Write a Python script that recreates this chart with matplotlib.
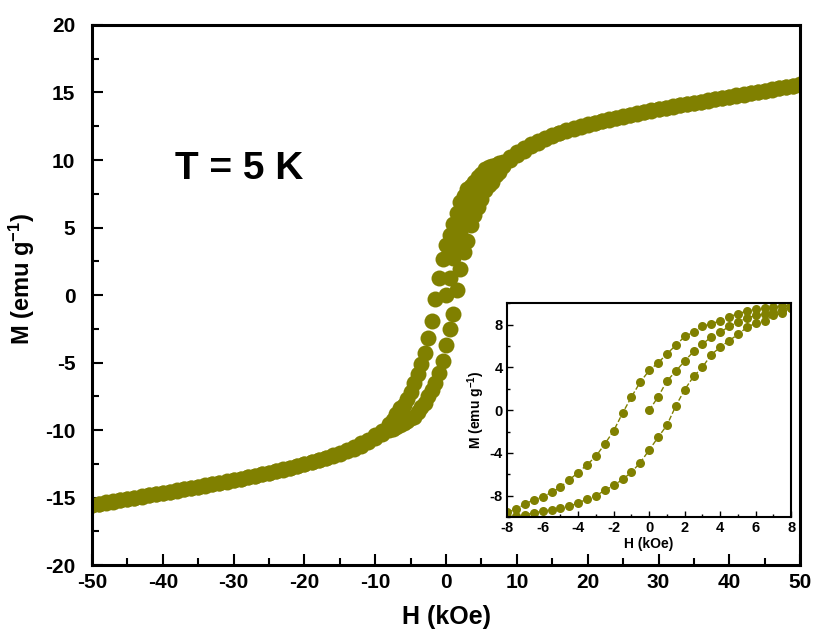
# M-H hysteresis loop at 5 K with low-field inset
import numpy as np
import matplotlib.pyplot as plt
from matplotlib.ticker import MultipleLocator

plt.rcParams["font.family"] = ["Liberation Sans", "DejaVu Sans"]
plt.rcParams["font.weight"] = "bold"
plt.rcParams["axes.labelweight"] = "bold"
plt.rcParams["axes.unicode_minus"] = False
plt.rcParams["mathtext.fontset"] = "custom"
plt.rcParams["mathtext.rm"] = "Liberation Sans:bold"
plt.rcParams["mathtext.bf"] = "Liberation Sans:bold"
plt.rcParams["mathtext.default"] = "bf"

OLIVE = "#808000"

# low-field part (kOe), 0.5 kOe steps
h_low = [-8, -7.5, -7, -6.5, -6, -5.5, -5, -4.5, -4, -3.5, -3, -2.5, -2, -1.5, -1, -0.5,
         0, 0.5, 1, 1.5, 2, 2.5, 3, 3.5, 4, 4.5, 5, 5.5, 6, 6.5, 7, 7.5, 8]
# branch measured while field goes down (upper branch)
m_low_down = [-9.55, -9.24, -8.8, -8.37, -8.12, -7.69, -7.19, -6.51, -5.83, -5.1, -4.31, -3.16,
              -1.92, -0.28, 1.24, 2.64, 3.72, 4.43, 5.27, 6.08, 6.9, 7.3, 7.84, 8.1, 8.35, 8.77,
              9.0, 9.3, 9.45, 9.55, 9.65, 9.75, 9.85]
# branch measured while field goes up (lower branch)
m_low_up = [-10.0, -9.9, -9.8, -9.6, -9.45, -9.3, -9.1, -9.0, -8.68, -8.31, -8.0, -7.5,
            -7.04, -6.48, -5.8, -4.9, -3.72, -2.54, -1.4, 0.4, 1.92, 3.16, 4.03, 5.2, 5.9, 6.5,
            7.1, 7.75, 8.15, 8.37, 8.87, 9.08, 9.55]
# virgin curve
h_virgin = [0, 0.5, 1, 1.5, 2, 2.5, 3, 3.5, 4, 4.5, 5, 5.5, 6, 6.5, 7, 7.5, 8]
m_virgin = [0, 1.24, 2.73, 3.66, 4.6, 5.5, 6.2, 6.85, 7.29, 7.84, 8.25, 8.62, 8.87, 9.0, 9.2, 9.4, 9.6]

# high-field parts, 1 kOe steps
h_pos = list(range(9, 51))
m_pos_down = [10.25, 10.6, 10.9, 11.15, 11.4, 11.62, 11.83, 12.02, 12.2, 12.36, 12.5, 12.63,
              12.76, 12.88, 13.0, 13.12, 13.23, 13.34, 13.45, 13.56, 13.67, 13.77, 13.87, 13.97,
              14.06, 14.15, 14.24, 14.33, 14.42, 14.51, 14.6, 14.69, 14.78, 14.87, 14.96, 15.05,
              15.14, 15.23, 15.32, 15.41, 15.5, 15.6]
m_pos_up = [10.0, 10.35, 10.7, 11.0, 11.27, 11.52, 11.78, 11.98, 12.17, 12.33, 12.47, 12.6,
            12.74, 12.86, 12.98, 13.1, 13.21, 13.32, 13.43, 13.54, 13.65, 13.75, 13.85, 13.95,
            14.04, 14.13, 14.22, 14.31, 14.4, 14.49, 14.58, 14.67, 14.76, 14.85, 14.94, 15.03,
            15.12, 15.21, 15.3, 15.39, 15.48, 15.58]
h_neg = list(range(-50, -8))
m_neg_down = [-15.55, -15.45, -15.36, -15.27, -15.18, -15.09, -15.0, -14.91, -14.82, -14.73,
              -14.64, -14.55, -14.46, -14.37, -14.28, -14.19, -14.1, -14.0, -13.9, -13.8,
              -13.7, -13.59, -13.48, -13.37, -13.26, -13.15, -13.03, -12.91, -12.78, -12.65,
              -12.52, -12.38, -12.23, -12.06, -11.88, -11.7, -11.5, -11.25, -10.98, -10.7,
              -10.4, -10.05]
m_neg_up = [-15.57, -15.47, -15.38, -15.29, -15.2, -15.11, -15.02, -14.93, -14.84, -14.75,
            -14.66, -14.57, -14.48, -14.39, -14.3, -14.21, -14.12, -14.02, -13.92, -13.82,
            -13.72, -13.61, -13.5, -13.39, -13.28, -13.17, -13.05, -12.93, -12.8, -12.67,
            -12.54, -12.4, -12.25, -12.09, -11.92, -11.75, -11.58, -11.38, -11.15, -10.9,
            -10.62, -10.3]

fig = plt.figure(figsize=(8.14, 6.4), dpi=100)
ax = fig.add_axes([0.113, 0.117, 0.870, 0.844])

# main plot: big overlapping dots
for hx, my in [(h_neg, m_neg_down), (h_neg, m_neg_up), (h_pos, m_pos_down), (h_pos, m_pos_up),
               (h_low, m_low_down), (h_low, m_low_up), (h_virgin, m_virgin)]:
    ax.plot(hx, my, "o", color=OLIVE, markersize=11.5, markeredgewidth=0)

ax.set_xlim(-50, 50)
ax.set_ylim(-20, 20)
ax.xaxis.set_major_locator(MultipleLocator(10))
ax.xaxis.set_minor_locator(MultipleLocator(5))
ax.yaxis.set_major_locator(MultipleLocator(5))
ax.yaxis.set_minor_locator(MultipleLocator(2.5))
ax.tick_params(which="both", direction="in", width=1.5, labelsize=15)
ax.tick_params(which="major", length=8)
ax.tick_params(which="minor", length=5)
ax.tick_params(axis="x", pad=6)
ax.tick_params(axis="y", pad=12)
for s in ax.spines.values():
    s.set_linewidth(2.2)

ax.set_xlabel("H (kOe)", fontsize=18, fontweight="bold", labelpad=9)
ax.set_ylabel(r"M (emu g$^{-1}$)", fontsize=17, fontweight="bold")
ax.yaxis.set_label_coords(-0.078, 0.53)
ax.text(-38.3, 8.6, "T = 5 K", fontsize=28, fontweight="bold", ha="left", va="baseline")

# inset: low-field zoom
axin = fig.add_axes([0.623, 0.192, 0.349, 0.334])
axin.plot(h_low, m_low_down, "o--", color=OLIVE, markersize=6.5, markeredgewidth=0, lw=1)
axin.plot(h_low, m_low_up, "o--", color=OLIVE, markersize=6.5, markeredgewidth=0, lw=1)
axin.plot(h_virgin, m_virgin, "o--", color=OLIVE, markersize=6.5, markeredgewidth=0, lw=1)
axin.set_xlim(-8, 8)
axin.set_ylim(-10, 10)
axin.xaxis.set_major_locator(MultipleLocator(2))
axin.xaxis.set_minor_locator(MultipleLocator(1))
axin.yaxis.set_major_locator(MultipleLocator(4))
axin.yaxis.set_minor_locator(MultipleLocator(2))
axin.tick_params(which="both", direction="in", width=1, labelsize=10.5, pad=3)
axin.tick_params(which="major", length=4)
axin.tick_params(which="minor", length=2)
for s in axin.spines.values():
    s.set_linewidth(1.5)
axin.set_xlabel("H (kOe)", fontsize=10, fontweight="bold", labelpad=1)
axin.set_ylabel(r"M (emu g$^{-1}$)", fontsize=10, fontweight="bold", labelpad=2)

fig.savefig("out.png", dpi=100)
